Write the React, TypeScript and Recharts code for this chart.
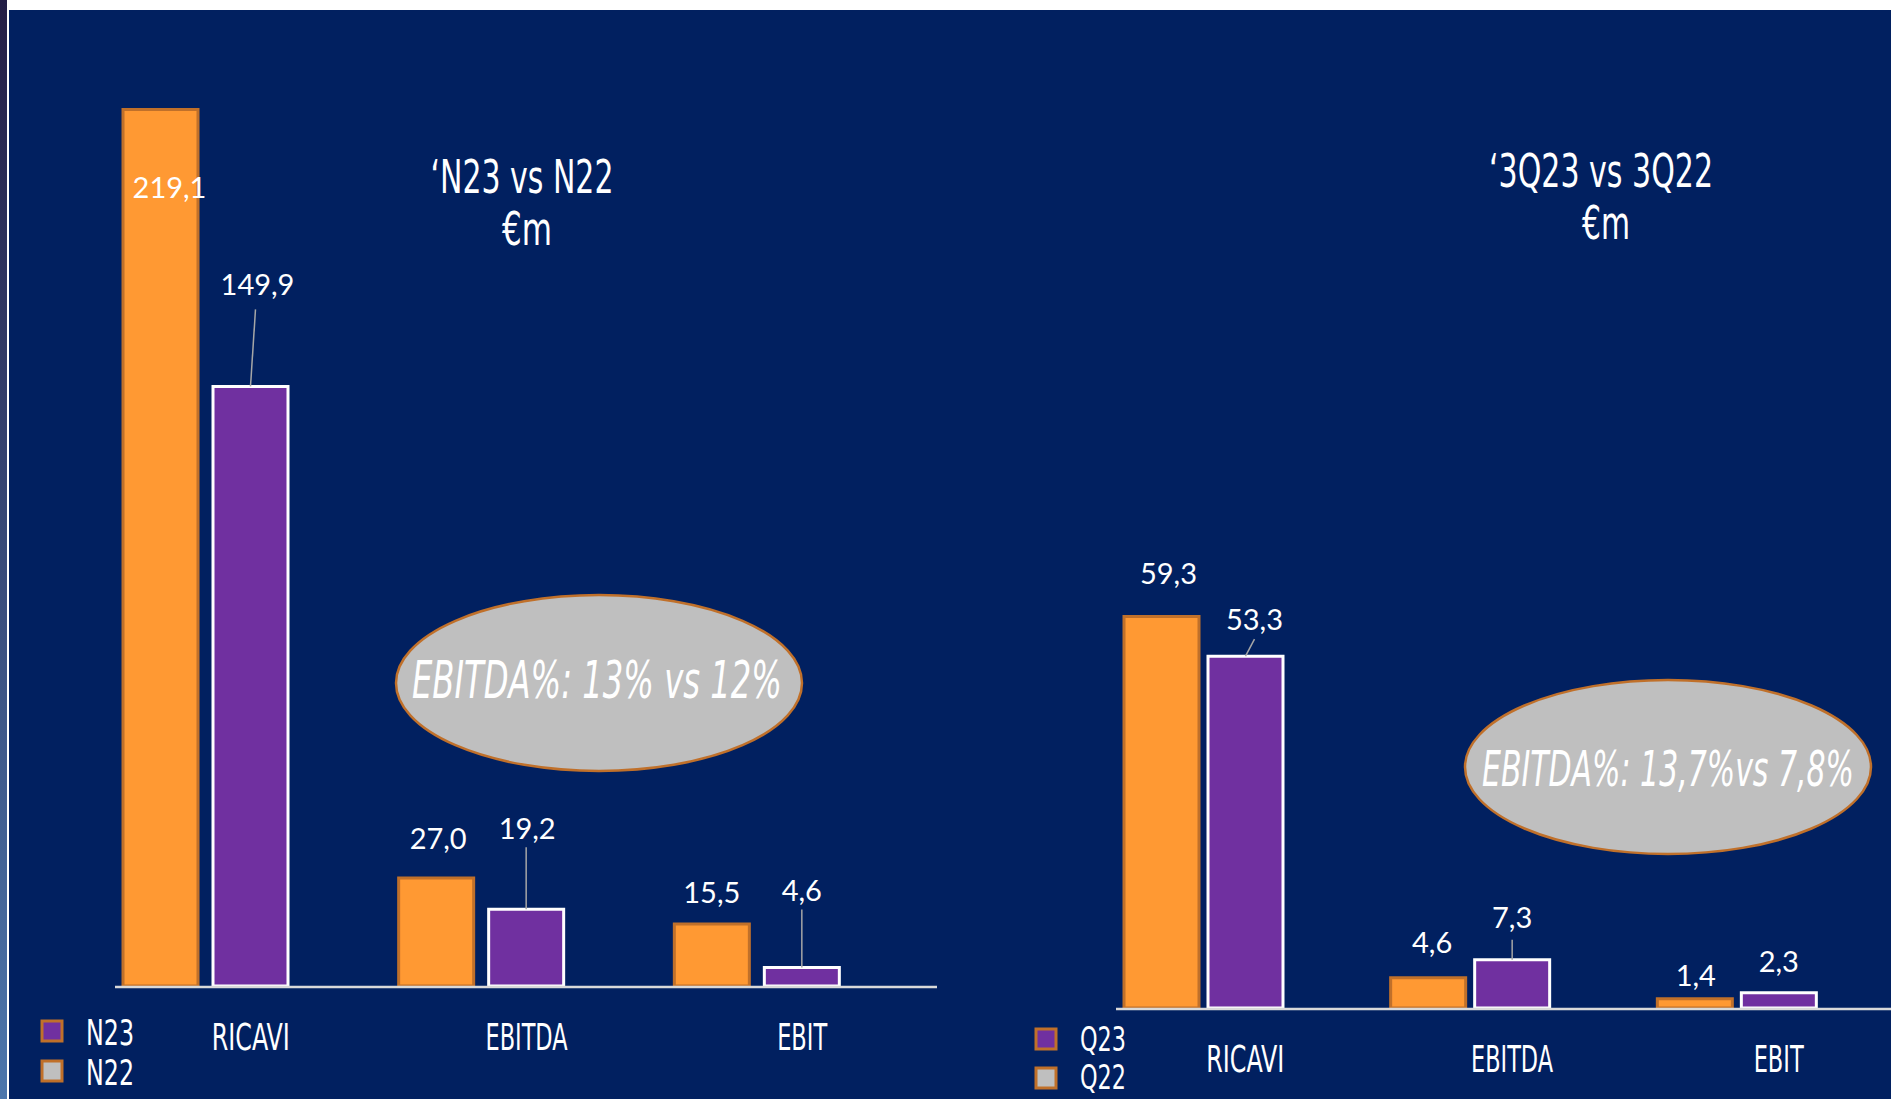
import { BarChart, Bar, XAxis, YAxis, LabelList } from "recharts";

const categories = ["RICAVI", "EBITDA", "EBIT"];
// full year (orange = N22, purple = N23)
const n22 = [219.1, 27.0, 15.5];
const n23 = [149.9, 19.2, 4.6];
// third quarter (orange = Q22, purple = Q23)
const q22 = [59.3, 4.6, 1.4];
const q23 = [53.3, 7.3, 2.3];

const yearRows = categories.map((name, i) => ({ name, n22: n22[i], n23: n23[i] }));
const quarterRows = categories.map((name, i) => ({ name, q22: q22[i], q23: q23[i] }));

const NAVY = "#012060";
const ORANGE = "#FF9933";
const ORANGE_EDGE = "#C0702A";
const PURPLE = "#7030A0";
const GREY = "#BFBFBF";
const COND = "'Liberation Sans Narrow', 'DejaVu Sans Condensed', Roboto, sans-serif";
const NUM = "Lato, 'Open Sans', sans-serif";

// label placement per bar: [dx, lift above bar top, leader length, leader dx]
const yearOrangePlace = [[9, -77, 0, 0], [2, 41, 0, 0], [0, 33, 0, 0]];
const yearPurplePlace = [[7, 103, 77, 5], [1, 82, 62, 0], [0, 78, 58, 0]];
const quarterOrangePlace = [[7, 44, 0, 0], [4, 36, 0, 0], [1, 24, 0, 0]];
const quarterPurplePlace = [[9, 38, 17, 9], [0, 43, 20, 0], [0, 32, 0, 0]];

const tickWidths: Record<string, number> = { RICAVI: 78, EBITDA: 82, EBIT: 50 };

const fmt = (v: number) => Number(v).toFixed(1).replace(".", ",");

function makeLabel(place: number[][]) {
  return (p: any) => {
    const { x, y, width, value, index } = p;
    const [dx, lift, line, lineDx] = place[index] ?? [0, 30, 0, 0];
    const cx = Number(x) + Number(width) / 2;
    const top = Number(y);
    return (
      <g>
        {line > 0 && (
          <line x1={cx} y1={top} x2={cx + lineDx} y2={top - line} stroke="#A6A6A6" strokeWidth={1.5} />
        )}
        <text x={cx + dx} y={top - lift} fill="#fff" fontSize={29} fontFamily={NUM}
              textAnchor="middle" dominantBaseline="central">{fmt(value)}</text>
      </g>
    );
  };
}

function makeTick(dx: number) {
  return (p: any) => {
    const label = String(p.payload.value);
    return (
      <text x={p.x + dx} y={p.y + 64} fill="#fff" fontSize={37} fontFamily={COND}
            textAnchor="middle" textLength={tickWidths[label]} lengthAdjust="spacingAndGlyphs">{label}</text>
    );
  };
}

const condText = { fill: "#fff", fontFamily: COND } as const;

export default function App() {
  return (
    <div style={{ position: "absolute", left: 0, top: 0, width: 1891, height: 1099, background: "#fff", overflow: "hidden" }}>
      <div style={{ position: "absolute", left: 0, top: 0, width: 7, height: 1099, background: "linear-gradient(#231d45, #4c76ac)" }} />
      <div style={{ position: "absolute", left: 9, top: 10, right: 0, bottom: 0, background: NAVY }} />

      <div style={{ position: "absolute", left: 0, top: 0 }}>
        <BarChart width={960} height={1099} data={yearRows} barSize={75} barGap={15}
                  margin={{ top: 26, right: 65, bottom: 0, left: 68 }}>
          <XAxis dataKey="name" height={113} axisLine={false} tickLine={false} tickSize={0} tickMargin={0}
                 tick={makeTick(45)} interval={0} />
          <YAxis hide domain={[0, 240]} />
          <Bar dataKey="n22" fill={ORANGE} stroke={ORANGE_EDGE} strokeWidth={3} isAnimationActive={false}>
            <LabelList dataKey="n22" content={makeLabel(yearOrangePlace)} />
          </Bar>
          <Bar dataKey="n23" fill={PURPLE} stroke="#fff" strokeWidth={3} isAnimationActive={false}>
            <LabelList dataKey="n23" content={makeLabel(yearPurplePlace)} />
          </Bar>
        </BarChart>
      </div>

      <div style={{ position: "absolute", left: 960, top: 0 }}>
        <BarChart width={931} height={1099} data={quarterRows} barSize={75} barGap={9}
                  margin={{ top: 84, right: 21, bottom: 0, left: 110 }}>
          <XAxis dataKey="name" height={91} axisLine={false} tickLine={false} tickSize={0} tickMargin={0}
                 tick={makeTick(42)} interval={0} />
          <YAxis hide domain={[0, 140]} />
          <Bar dataKey="q22" fill={ORANGE} stroke={ORANGE_EDGE} strokeWidth={3} isAnimationActive={false}>
            <LabelList dataKey="q22" content={makeLabel(quarterOrangePlace)} />
          </Bar>
          <Bar dataKey="q23" fill={PURPLE} stroke="#fff" strokeWidth={3} isAnimationActive={false}>
            <LabelList dataKey="q23" content={makeLabel(quarterPurplePlace)} />
          </Bar>
        </BarChart>
      </div>

      <svg width={1891} height={1099} style={{ position: "absolute", left: 0, top: 0, pointerEvents: "none" }}>
        <line x1={115} y1={987} x2={937} y2={987} stroke="#D9D9D9" strokeWidth={2.5} />
        <line x1={1116} y1={1009} x2={1891} y2={1009} stroke="#D9D9D9" strokeWidth={2.5} />

        <text x={522} y={193} fontSize={47} textAnchor="middle" textLength={183} lengthAdjust="spacingAndGlyphs" {...condText}>‘N23 vs N22</text>
        <text x={527} y={245} fontSize={47} textAnchor="middle" textLength={50} lengthAdjust="spacingAndGlyphs" {...condText}>€m</text>
        <text x={1601} y={187} fontSize={47} textAnchor="middle" textLength={224} lengthAdjust="spacingAndGlyphs" {...condText}>‘3Q23 vs 3Q22</text>
        <text x={1606} y={239} fontSize={47} textAnchor="middle" textLength={48} lengthAdjust="spacingAndGlyphs" {...condText}>€m</text>

        <ellipse cx={599} cy={683} rx={203} ry={88} fill={GREY} stroke={ORANGE_EDGE} strokeWidth={2.5} />
        <text x={597} y={698} fontSize={52} fontStyle="italic" textAnchor="middle" textLength={370} lengthAdjust="spacingAndGlyphs" {...condText}>EBITDA%: 13% vs 12%</text>
        <ellipse cx={1668} cy={767} rx={203} ry={87} fill={GREY} stroke={ORANGE_EDGE} strokeWidth={2.5} />
        <text x={1668} y={786} fontSize={50} fontStyle="italic" textAnchor="middle" textLength={372} lengthAdjust="spacingAndGlyphs" {...condText}>EBITDA%: 13,7%vs 7,8%</text>

        <rect x={42} y={1021} width={20} height={20} fill={PURPLE} stroke={ORANGE_EDGE} strokeWidth={3} />
        <rect x={42} y={1061} width={20} height={20} fill={GREY} stroke={ORANGE_EDGE} strokeWidth={3} />
        <text x={86} y={1045} fontSize={35} textLength={48} lengthAdjust="spacingAndGlyphs" {...condText}>N23</text>
        <text x={86} y={1085} fontSize={35} textLength={48} lengthAdjust="spacingAndGlyphs" {...condText}>N22</text>

        <rect x={1036} y={1029} width={20} height={20} fill={PURPLE} stroke={ORANGE_EDGE} strokeWidth={3} />
        <rect x={1036} y={1068} width={20} height={20} fill={GREY} stroke={ORANGE_EDGE} strokeWidth={3} />
        <text x={1080} y={1051} fontSize={34} textLength={46} lengthAdjust="spacingAndGlyphs" {...condText}>Q23</text>
        <text x={1080} y={1089} fontSize={34} textLength={46} lengthAdjust="spacingAndGlyphs" {...condText}>Q22</text>
      </svg>
    </div>
  );
}
